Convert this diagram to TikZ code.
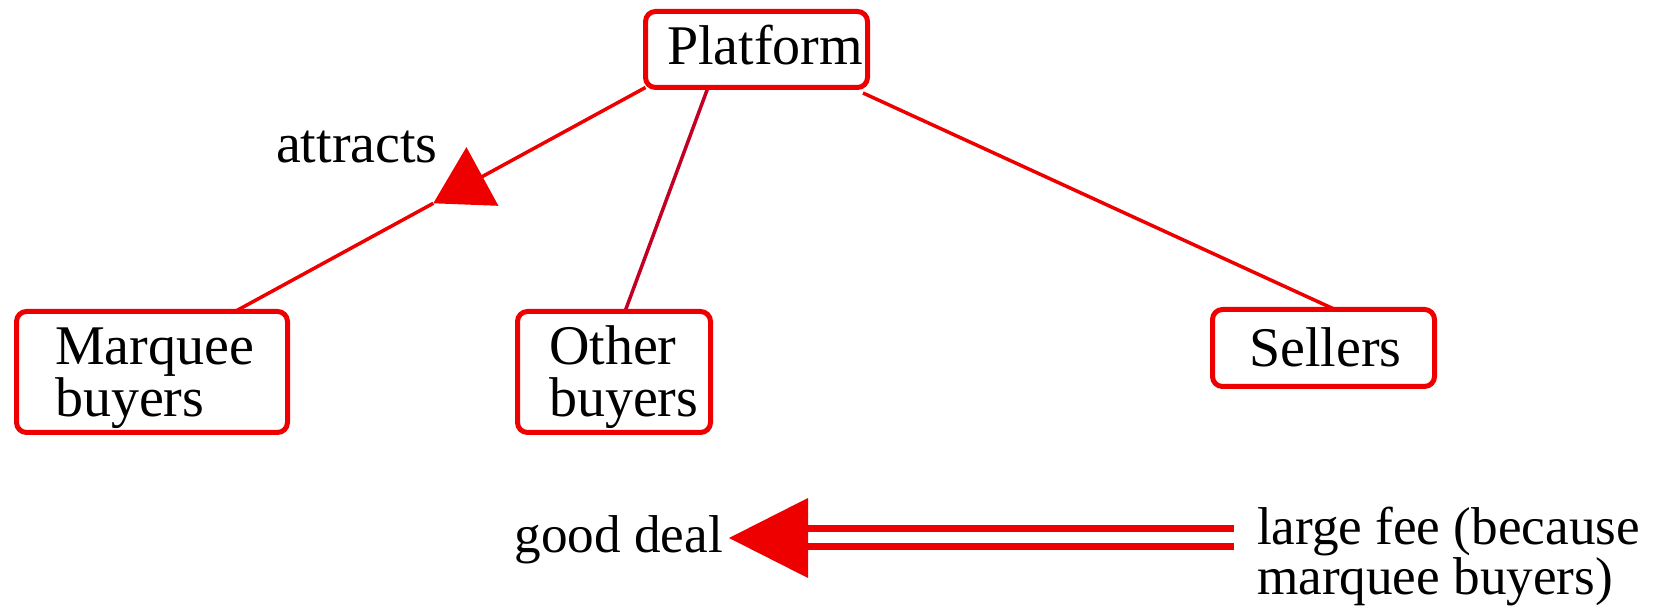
\documentclass[tikz,border=0pt]{standalone}
\usepackage{fontspec}
\setmainfont{Liberation Serif}
\usetikzlibrary{arrows.meta,calc,backgrounds}
\definecolor{boxred}{RGB}{238,0,0}
\definecolor{darkline}{RGB}{195,0,35}
\begin{document}
\begin{tikzpicture}[x=0.5pt,y=-0.5pt,
  box/.style={draw=boxred, line width=2.5pt, rounded corners=5pt, fill=white, align=left,
    inner ysep=0pt, outer sep=0pt, font={\fontsize{28}{26}\selectfont\lineskiplimit=-10pt}},
  lbl/.style={inner sep=0pt, outer sep=0pt, align=left, font={\fontsize{28}{25}\selectfont\lineskiplimit=-10pt}},
  lblsmall/.style={lbl, font={\fontsize{26.6}{25}\selectfont\lineskiplimit=-10pt}},
  conn/.style={draw=boxred, line width=1.75pt},
  dbl/.style={draw=boxred, line width=3.5pt, double=white, double distance=5.5pt}]
\useasboundingbox (0,0) rectangle (1656,608);

\node[box, minimum width=111pt, minimum height=38pt, text width=89.5pt, inner xsep=10.75pt] (P) at (756.5,49.5)
  {\rule[-4.5pt]{0pt}{24.5pt}Platform};
\node[box, minimum width=135.5pt, minimum height=60.5pt, text width=97pt, inner xsep=19.25pt] (M) at (152,372)
  {\rule{0pt}{25.5pt}Marquee\\buyers\rule[-6.5pt]{0pt}{6.5pt}};
\node[box, minimum width=96.5pt, minimum height=60.5pt, text width=65pt, inner xsep=15.75pt] (O) at (614,372)
  {\rule{0pt}{25.5pt}Other\\buyers\rule[-6.5pt]{0pt}{6.5pt}};
\node[box, minimum width=111pt, minimum height=38.5pt, text width=74.5pt, inner xsep=18.25pt] (S) at (1323.5,348)
  {\rule[-3pt]{0pt}{25pt}Sellers};

\node[lbl, anchor=base west] (attr) at (276,163) {attracts};
\node[lblsmall, anchor=base east] (gd) at (723,553) {good deal};
\node[lblsmall, anchor=west] (lf) at (1257,557)
  {\rule{0pt}{20pt}large fee (because\\marquee buyers)\rule[-7pt]{0pt}{7pt}};

\begin{scope}[on background layer]
\path (P.south west) -- coordinate[pos=0.517] (att) ($(M.north)+(83,0)$);
\draw[conn, -{Triangle[length=28pt,width=33pt]}] (P.south west) -- (att);
\draw[conn] (att) -- ($(M.north)+(83,0)$);
\draw[conn, draw=darkline] ($(P.south)+(-48.5,0)$) -- ($(O.north)+(11,0)$);
\draw[conn] ($(P.south east)+(-4.5,5.5)$) -- ($(S.north)+(11.5,0)$);
\end{scope}

\coordinate (tip) at ($(gd.base east)+(6,-15)$);
\coordinate (ls) at ($(lf.west)+(-23,-19)$);
\draw[dbl, shorten >=38pt] (ls) -- (tip);
\fill[boxred] (tip) -- ++(79,-40) -- ++(0,80) -- cycle;
\end{tikzpicture}
\end{document}
